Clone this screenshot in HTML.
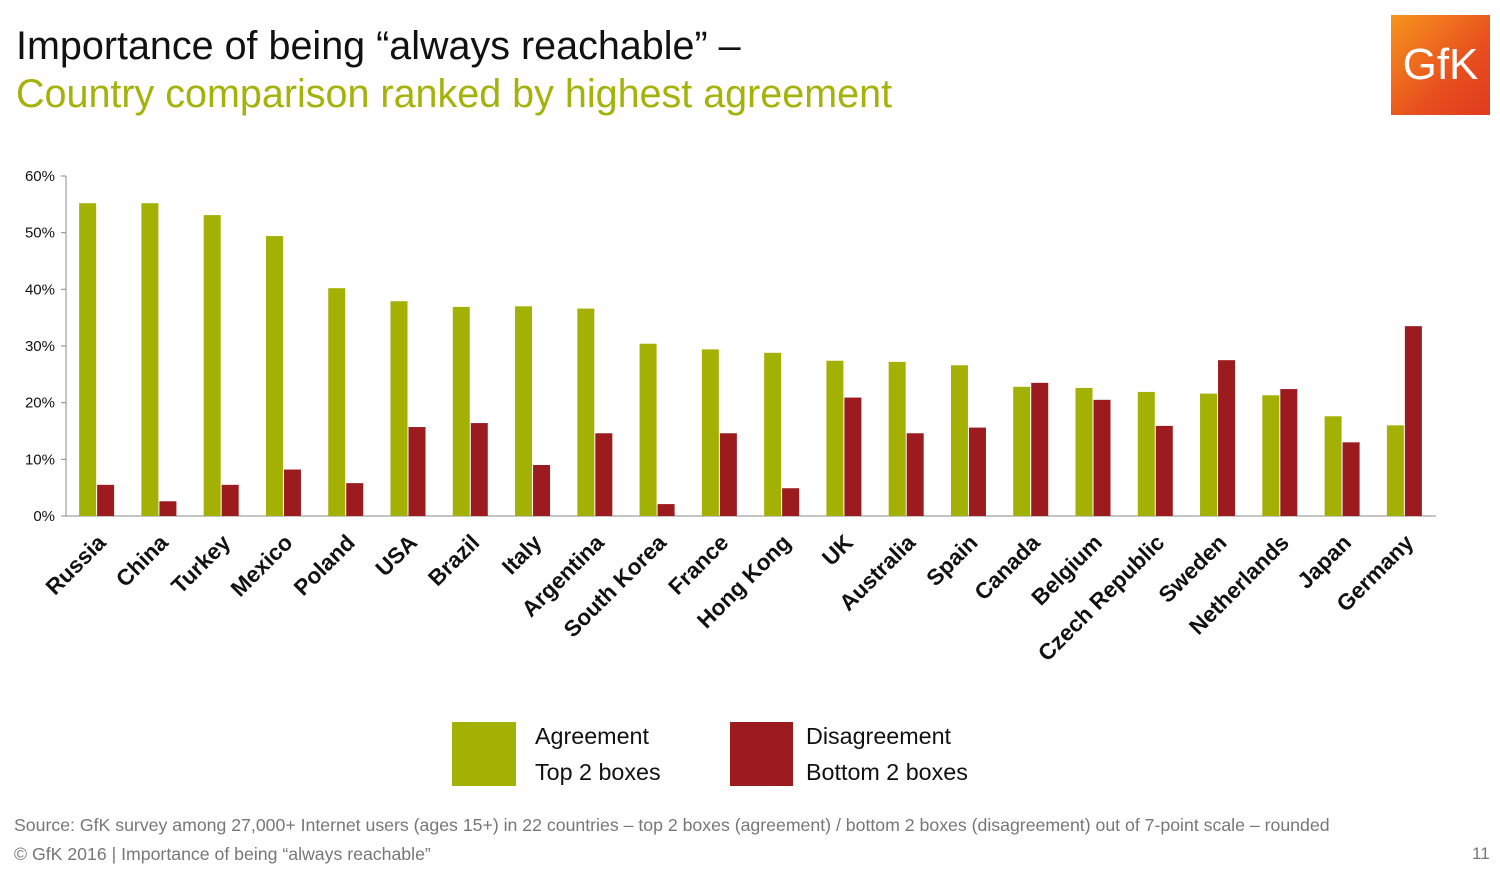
<!DOCTYPE html>
<html><head><meta charset="utf-8"><style>
body{margin:0;width:1500px;height:874px;background:#fff;overflow:hidden;font-family:"Liberation Sans",Arial,sans-serif;position:relative}
.t{position:absolute;white-space:nowrap}
</style></head><body>
<div class="t" style="left:16px;top:24px;font-size:39.5px;color:#111">Importance of being “always reachable” –</div>
<div class="t" style="left:16px;top:72px;font-size:39.5px;color:#a5b20a">Country comparison ranked by highest agreement</div>
<div style="position:absolute;left:1391px;top:15px;width:99px;height:100px;background:linear-gradient(135deg,#f7941d,#e8501e 60%,#e03a1e);color:#fff;font-size:44px;text-align:center;line-height:100px;font-family:'Liberation Sans',sans-serif">GfK</div>
<svg id="chart" width="1500" height="720" style="position:absolute;left:0;top:0"></svg>
<div style="position:absolute;left:452px;top:722px;width:64px;height:64px;background:#a3b004"></div>
<div class="t" style="left:535px;top:718px;font-size:23.3px;line-height:36px;color:#111">Agreement<br>Top 2 boxes</div>
<div style="position:absolute;left:730px;top:722px;width:63px;height:64px;background:#9b1b1f"></div>
<div class="t" style="left:806px;top:718px;font-size:23.3px;line-height:36px;color:#111">Disagreement<br>Bottom 2 boxes</div>
<div class="t" style="left:14px;top:815px;font-size:17.7px;color:#777">Source: GfK survey among 27,000+ Internet users (ages 15+) in 22 countries – top 2 boxes (agreement) / bottom 2 boxes (disagreement) out of 7-point scale – rounded</div>
<div class="t" style="left:14px;top:844px;font-size:17.7px;color:#777">© GfK 2016 | Importance of being “always reachable”</div>
<div class="t" style="left:1472px;top:844px;font-size:17px;color:#777">11</div>
<script>
const categories=["Russia","China","Turkey","Mexico","Poland","USA","Brazil","Italy","Argentina","South Korea","France","Hong Kong","UK","Australia","Spain","Canada","Belgium","Czech Republic","Sweden","Netherlands","Japan","Germany"];
const agreement=[55.2,55.2,53.1,49.4,40.2,37.9,36.9,37,36.6,30.4,29.4,28.8,27.4,27.2,26.6,22.8,22.6,21.9,21.6,21.3,17.6,16];
const disagreement=[5.5,2.6,5.5,8.2,5.8,15.7,16.4,9,14.6,2.1,14.6,4.9,20.9,14.6,15.6,23.5,20.5,15.9,27.5,22.4,13,33.5];
const yTicks=[0,10,20,30,40,50,60];
const NS="http://www.w3.org/2000/svg",svg=document.getElementById('chart');
const x0=66,x1=1436,y0=516,yTop=176,ymax=60;
const bw=(x1-x0)/categories.length;
const y=v=>y0-(v/ymax)*(y0-yTop);
function mk(t,a){const e=document.createElementNS(NS,t);for(const k in a)e.setAttribute(k,a[k]);svg.appendChild(e);return e;}
let ax=mk('line',{x1:x0,y1:yTop,x2:x0,y2:y0,stroke:'#888','stroke-width':1});


let bx=mk('line',{x1:x0,y1:y0,x2:x1,y2:y0,stroke:'#888','stroke-width':1});


yTicks.forEach(v=>{
 mk('line',{x1:x0-5,y1:y(v),x2:x0,y2:y(v),stroke:'#888'});
 const t=mk('text',{x:55,y:y(v)+5,'text-anchor':'end','font-size':15,fill:'#111'});
 t.textContent=v+'%';
 
 
});
categories.forEach((c,i)=>{
 const cx=x0+bw*(i+0.5);
 const g=mk('rect',{x:cx-18,y:y(agreement[i]),width:17,height:y0-y(agreement[i]),fill:'#a3b004'});
 
 
 const r=mk('rect',{x:cx,y:y(disagreement[i]),width:17,height:y0-y(disagreement[i]),fill:'#9b1b1f'});
 
 
 const lx=cx+10,ly=544;
 const t=mk('text',{x:lx,y:ly,'text-anchor':'end','font-size':22.5,'font-weight':'bold',fill:'#111',transform:`rotate(-45 ${lx} ${ly})`});
 t.textContent=c;
 
 
});
</script>
</body></html>
